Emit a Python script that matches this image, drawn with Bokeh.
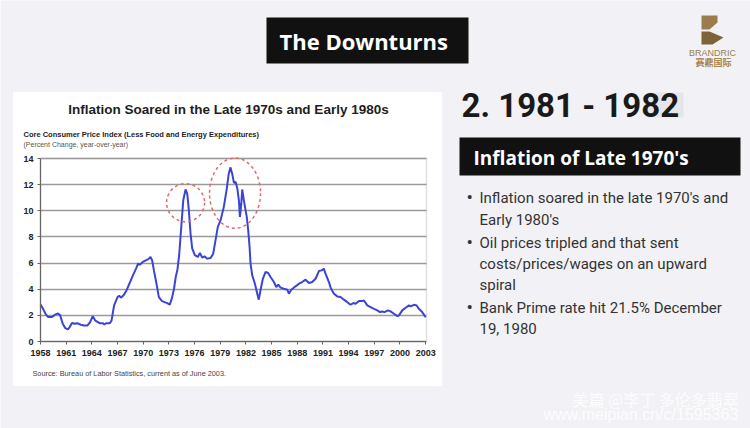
from bokeh.plotting import figure
from bokeh.models import Label, BoxAnnotation, PolyAnnotation, FixedTicker, Range1d, ColumnDataSource
from bokeh.embed import file_html
from bokeh.resources import INLINE

# ---------------- data ----------------
years = [1958.0, 1958.3, 1958.6, 1958.9, 1959.3, 1959.7, 1960.05, 1960.3, 1960.6, 1960.9,
         1961.2, 1961.4, 1961.7, 1961.95, 1962.3, 1962.7, 1963.1, 1963.5, 1963.8, 1964.1,
         1964.4, 1964.9, 1965.3, 1965.45, 1965.7, 1966.1, 1966.3, 1966.6, 1967.0, 1967.2,
         1967.4, 1967.7, 1968.0, 1968.3, 1968.8, 1969.2, 1969.4, 1969.6, 1969.95, 1970.3,
         1970.6, 1970.85, 1971.05, 1971.25, 1971.5, 1971.83, 1972.2, 1972.8, 1973.1, 1973.35,
         1973.6, 1973.8, 1974.0, 1974.2, 1974.36, 1974.68, 1974.95, 1975.15, 1975.33, 1975.53,
         1975.73, 1976.03, 1976.38, 1976.62, 1976.9, 1977.17, 1977.48, 1977.87, 1978.18, 1978.45,
         1978.72, 1979.04, 1979.42, 1979.74, 1980.0, 1980.2, 1980.43, 1980.6, 1980.8, 1981.0,
         1981.18, 1981.3, 1981.46, 1981.57, 1981.76, 1981.96, 1982.1, 1982.27, 1982.43, 1982.54,
         1982.74, 1983.05, 1983.33, 1983.5, 1983.7, 1983.98, 1984.3, 1984.6, 1984.88, 1985.27,
         1985.55, 1985.78, 1986.05, 1986.43, 1986.84, 1987.02, 1987.3, 1987.8, 1988.2, 1988.58,
         1988.97, 1989.36, 1989.75, 1990.14, 1990.53, 1990.84, 1991.1, 1991.3, 1991.7, 1991.9,
         1992.28, 1992.68, 1993.06, 1993.45, 1993.85, 1994.23, 1994.55, 1994.82, 1995.2, 1995.6,
         1995.79, 1996.18, 1996.57, 1996.96, 1997.35, 1997.66, 1997.94, 1998.2, 1998.6, 1998.9,
         1999.3, 1999.7, 1999.88, 2000.27, 2000.66, 2001.05, 2001.24, 2001.63, 2001.95, 2002.2,
         2002.6, 2003.0]
core_cpi = [2.84, 2.5, 2.1, 1.87, 1.87, 2.05, 2.15, 2.0, 1.36, 1.02,
            0.92, 1.1, 1.43, 1.36, 1.4, 1.28, 1.23, 1.23, 1.48, 1.94,
            1.6, 1.4, 1.4, 1.3, 1.4, 1.4, 1.6, 2.76, 3.4, 3.5,
            3.35, 3.53, 3.84, 4.3, 5.06, 5.63, 5.96, 5.88, 6.09, 6.2,
            6.3, 6.47, 6.2, 5.44, 4.6, 3.4, 3.09, 2.94, 2.82, 3.3,
            4.04, 4.93, 5.5, 6.6, 8.0, 10.8, 11.63, 11.3, 10.05, 8.26,
            7.1, 6.6, 6.47, 6.77, 6.42, 6.52, 6.34, 6.39, 6.72, 7.75,
            8.77, 9.28, 10.3, 11.58, 12.86, 13.32, 12.73, 12.14, 12.2, 11.7,
            10.8, 9.53, 10.56, 11.63, 10.8, 10.05, 9.53, 8.5, 7.23, 5.96,
            5.06, 4.42, 3.66, 3.2, 3.9, 4.8, 5.32, 5.24, 4.93, 4.55,
            4.17, 4.35, 4.12, 4.04, 3.96, 3.66, 3.96, 4.22, 4.42, 4.55,
            4.73, 4.48, 4.55, 4.8, 5.39, 5.44, 5.57, 5.19, 4.55, 4.12,
            3.66, 3.45, 3.4, 3.2, 3.01, 2.81, 2.94, 2.89, 3.09, 3.09,
            3.14, 2.76, 2.63, 2.5, 2.38, 2.25, 2.3, 2.25, 2.38, 2.3,
            2.12, 1.94, 2.0, 2.38, 2.58, 2.76, 2.68, 2.81, 2.76, 2.5,
            2.25, 1.86]

year_ticks = [1958, 1961, 1964, 1967, 1970, 1973, 1976, 1979, 1982, 1985, 1988, 1991, 1994, 1997, 2000, 2003]
value_ticks = [0, 2, 4, 6, 8, 10, 12, 14]

# highlighted peaks (red dashed ellipses): centre year, centre value, width (yrs), height (pts)
peak_x = [1974.95, 1980.73]
peak_y = [10.62, 11.35]
peak_w = [4.44, 5.96]
peak_h = [2.91, 5.37]

chart_title = "Inflation Soared in the Late 1970s and Early 1980s"
chart_sub1 = "Core Consumer Price Index (Less Food and Energy Expenditures)"
chart_sub2 = "(Percent Change, year-over-year)"
chart_source = "Source:  Bureau of Labor Statistics, current as of June 2003."
slide_title = "The Downturns"
section_title = "2. 1981 - 1982"
box_title = "Inflation of Late 1970's"
bullet_lines = [("Inflation soared in the late 1970's and", True),
                ("Early 1980's", False),
                ("Oil prices tripled and that sent", True),
                ("costs/prices/wages on an upward", False),
                ("spiral", False),
                ("Bank Prime rate hit 21.5% December", True),
                ("19, 1980", False)]

# ---------------- layout constants (page pixels) ----------------
W, H = 750, 428
PAGE_L, PAGE_T = 0, 0
PLOT_L, PLOT_R, PLOT_T, PLOT_B = 40, 426, 158, 341   # chart plot area on the page
X0, X1 = 1958, 2003.1
Y0, Y1 = 0, 14
ppx = (PLOT_R - PLOT_L) / (X1 - X0)
ppy = (PLOT_B - PLOT_T) / (Y1 - Y0)
x_range = Range1d(X0 - (PLOT_L - PAGE_L) / ppx, X1 + (PAGE_L + W - PLOT_R) / ppx)
y_range = Range1d(Y0 - (PAGE_T + H - PLOT_B) / ppy, Y1 + (PLOT_T - PAGE_T) / ppy)

SLIDE_BG = "#f2f2f6"
p = figure(width=W, height=H, output_backend="svg", toolbar_location=None,
           x_range=x_range, y_range=y_range,
           min_border=0, min_border_left=0, min_border_right=0, min_border_top=0, min_border_bottom=0,
           border_fill_color=SLIDE_BG, background_fill_color=SLIDE_BG, outline_line_color=None)

def sx(X):
    return X - PAGE_L
def sy(Y):
    return PAGE_T + H - Y

def box(L, T, R, B, color, level="annotation", line=None, alpha=1.0):
    p.add_layout(BoxAnnotation(left=sx(L), right=sx(R), top=sy(T), bottom=sy(B),
                               left_units="screen", right_units="screen",
                               top_units="screen", bottom_units="screen",
                               fill_color=color, fill_alpha=alpha, line_color=line,
                               line_width=1, level=level))

def label(text, X, Y, size, color, font, style="normal", align="left", alpha=1.0):
    p.add_layout(Label(x=sx(X), y=sy(Y), x_units="screen", y_units="screen", text=text,
                       text_font=font, text_font_size=f"{size}px", text_font_style=style,
                       text_color=color, text_align=align, text_baseline="middle",
                       text_alpha=alpha))

# white chart card behind everything
box(12, 91, 442, 386, "white", level="image", line="#e6e6ea")

# axes placed inside the frame at the chart's origin
xa, ya = p.xaxis[0], p.yaxis[0]
xa.fixed_location = Y0
ya.fixed_location = X0
xa.bounds = (X0, 2003)
ya.bounds = (Y0, Y1)
xa.ticker = FixedTicker(ticks=year_ticks)
ya.ticker = FixedTicker(ticks=value_ticks)
for ax in (xa, ya):
    ax.axis_line_color = "#666666"
    ax.axis_line_width = 1.2
    ax.major_tick_line_color = "#666666"
    ax.major_tick_in = 0
    ax.major_tick_out = 3
    ax.minor_tick_line_color = None
    ax.major_label_text_font = "Liberation Sans"
    ax.major_label_text_font_style = "bold"
    ax.major_label_text_font_size = "9px"
    ax.major_label_text_color = "#222222"
xa.major_label_standoff = 5
ya.major_label_standoff = 4

p.xgrid.visible = False
yg = p.ygrid[0]
yg.ticker = FixedTicker(ticks=value_ticks)
yg.grid_line_color = "#9a9a9a"
yg.grid_line_width = 1.6
yg.bounds = (Y0, Y1)
if "cross_bounds" in yg.properties():
    yg.cross_bounds = (X0, X1)
else:
    yg.visible = False
    p.segment(x0=[X0] * len(value_ticks), x1=[X1] * len(value_ticks), y0=value_ticks, y1=value_ticks,
              line_color="#9a9a9a", line_width=1.6)

# plot-area outline
p.add_layout(BoxAnnotation(left=X0, right=X1, bottom=Y0, top=Y1, fill_alpha=0,
                           line_color="#9a9a9a", line_width=1.5, level="underlay"))

src = ColumnDataSource(data=dict(year=years, cpi=core_cpi))
p.line("year", "cpi", source=src, line_color="#3a44d6", line_width=2)
peaks = ColumnDataSource(data=dict(x=peak_x, y=peak_y, w=peak_w, h=peak_h))
p.ellipse(x="x", y="y", width="w", height="h", source=peaks, fill_alpha=0,
          line_color="#e06a6a", line_width=1.5, line_dash="3 3")

# chart texts
label(chart_title, 228, 109, 13.5, "#1e1e1e", "Liberation Sans", "bold", "center")
label(chart_sub1, 23, 134, 7.5, "#222222", "Liberation Sans", "bold")
label(chart_sub2, 23, 144, 7, "#555555", "Liberation Sans", "normal")
label(chart_source, 32, 373, 7.3, "#444444", "Liberation Sans")

# slide header
box(266, 17, 468, 63, "#111111")
label(slide_title, 279, 40, 22, "white", "Open Sans", "bold")

# logo
p.add_layout(PolyAnnotation(xs=[sx(v) for v in (701, 717, 717, 709, 701)],
                            ys=[sy(v) for v in (15, 15, 22, 29, 29)],
                            xs_units="screen", ys_units="screen",
                            fill_color="#9c7c4c", fill_alpha=1, line_color=None))
p.add_layout(PolyAnnotation(xs=[sx(v) for v in (701, 709, 723, 712, 701)],
                            ys=[sy(v) for v in (31, 31, 37, 44, 44)],
                            xs_units="screen", ys_units="screen",
                            fill_color="#7e6238", fill_alpha=1, line_color=None))
label("BRANDRIC", 712, 52, 9, "#9a7b4e", "Liberation Sans", "normal", "center")
label("赛鼎国际", 713, 62, 9, "#a8864f", "Noto Sans CJK SC", "bold", "center")

# right panel
box(647, 92, 683, 117, "#e6e6ea")
label(section_title, 461, 105, 33, "#1a1a1a", "Roboto", "bold")
box(459, 137, 740, 175, "#111111")
label(box_title, 473, 157, 19, "white", "Open Sans", "bold")

line_y = [197, 219, 242, 263, 284, 307, 328]
for (txt, bullet), Y in zip(bullet_lines, line_y):
    if bullet:
        label("•", 466, Y, 19, "#333333", "Roboto")
    label(txt, 479, Y, 15, "#333333", "Roboto")

# faint watermark
label("美篇 @李丁 多伦多翡翠", 572, 398, 16, "white", "Noto Sans CJK SC", "normal", "left", 0.85)
label("www.meipian.cn/c/1595363", 543, 414, 16, "white", "Liberation Sans", "normal", "left", 0.85)

open("out.html", "w").write(file_html(p, INLINE))
